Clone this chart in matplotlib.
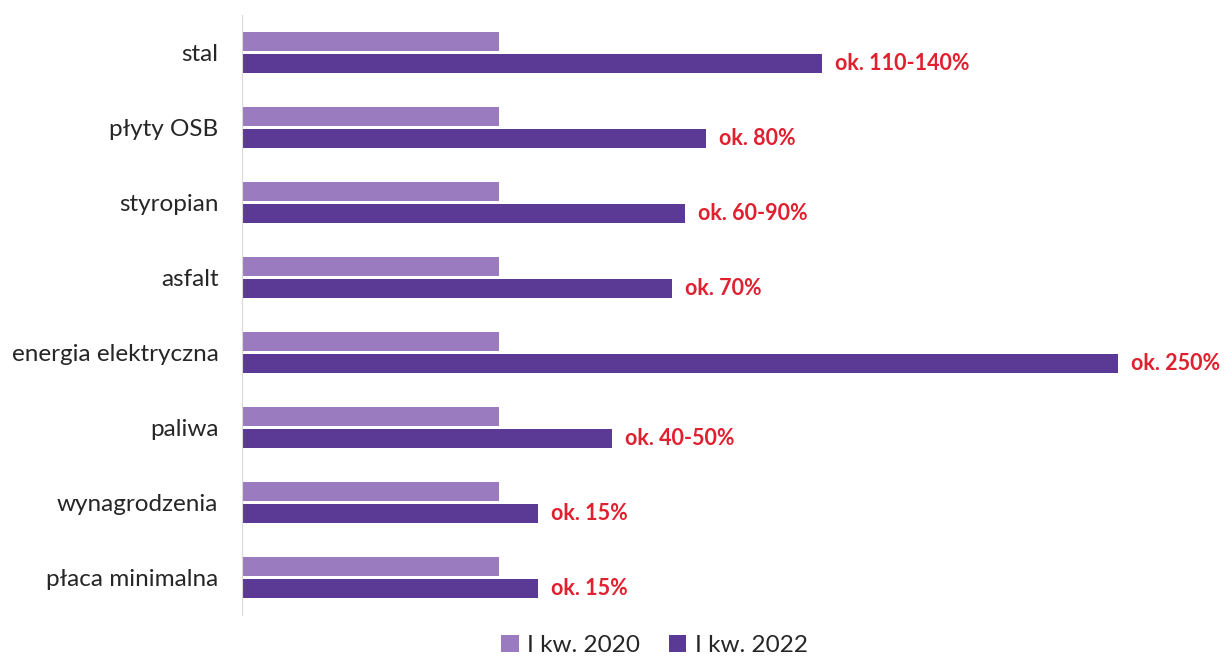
import numpy as np
import matplotlib.pyplot as plt

# Dane: indeks cen (I kw. 2020 = 100)
categories = ['stal', 'płyty OSB', 'styropian', 'asfalt', 'energia elektryczna',
              'paliwa', 'wynagrodzenia', 'płaca minimalna']
values_2020 = [100, 100, 100, 100, 100, 100, 100, 100]
values_2022 = [225.7, 180.5, 172.4, 167.3, 340.9, 144.0, 115.2, 115.2]
labels_2022 = ['ok. 110-140%', 'ok. 80%', 'ok. 60-90%', 'ok. 70%', 'ok. 250%',
               'ok. 40-50%', 'ok. 15%', 'ok. 15%']

plt.rcParams['font.family'] = ['Lato', 'DejaVu Sans']

fig = plt.figure(figsize=(12.31, 6.59), dpi=100)
ax = fig.add_axes([0.1966, 0.0668, 0.7116, 0.910])

y = np.arange(len(categories))
h = 0.255
off = 0.148

ax.barh(y - off, values_2020, height=h, color='#9B7BBF', label='I kw. 2020')
bars = ax.barh(y + off, values_2022, height=h, color='#5B3A96', label='I kw. 2022')

for rect, txt in zip(bars, labels_2022):
    ax.text(rect.get_width() + 5, rect.get_y() + rect.get_height() / 2, txt,
            va='center', ha='left', color='#E0202F', fontsize=15.5,
            fontweight='bold', clip_on=False)

ax.set_yticks(y)
ax.set_yticklabels(categories, fontsize=17.5, color='#262626')
ax.tick_params(axis='y', length=0, pad=17)
ax.set_ylim(len(categories) - 0.5, -0.5)
ax.set_xlim(0, 340.9)
ax.set_xticks([])

for s in ['top', 'right', 'bottom']:
    ax.spines[s].set_visible(False)
ax.spines['left'].set_color('#D9D9D9')

ax.legend(loc='lower center', bbox_to_anchor=(0.471, -0.097), ncol=2, frameon=False,
          fontsize=17.5, handlelength=0.7, handleheight=0.7, handletextpad=0.35,
          columnspacing=1.2, labelcolor='#262626', borderpad=0.2)

fig.savefig('out.png', dpi=100)
